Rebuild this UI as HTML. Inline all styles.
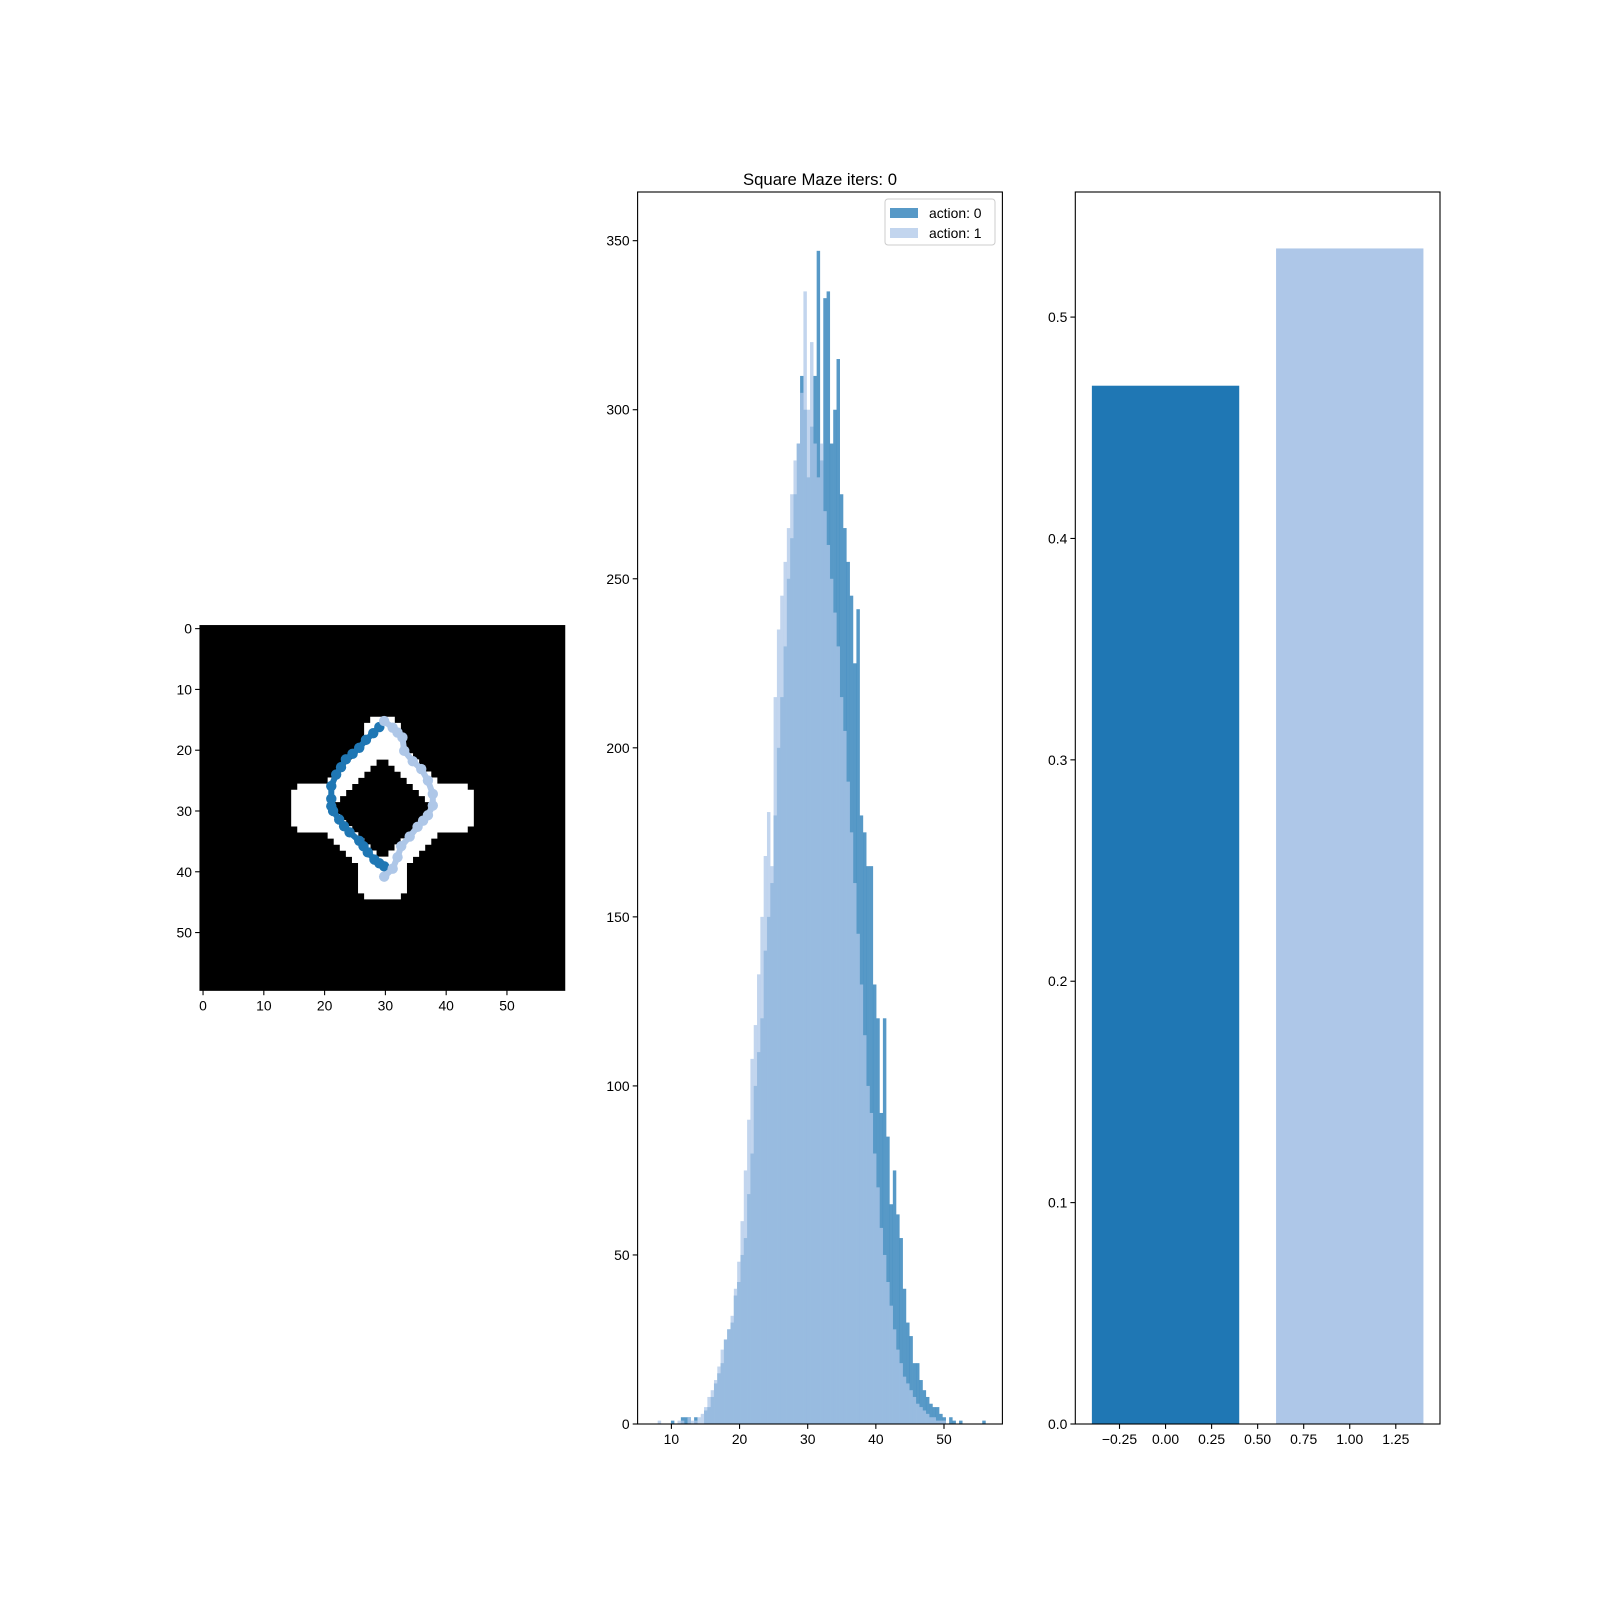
<!DOCTYPE html>
<html><head><meta charset="utf-8"><style>
html,body{margin:0;padding:0;background:#fff;}
svg{display:block;font-family:"Liberation Sans","DejaVu Sans",sans-serif;}
</style></head><body>
<svg id="fig" width="1600" height="1600" viewBox="0 0 1600 1600" xmlns="http://www.w3.org/2000/svg">
<rect width="1600" height="1600" fill="#fff"/>
<g id="maze"></g>
<g id="hist"></g>
<g id="bars"></g>
</svg>
<script>
// ---- data ----
const histBinStart = 7.5;
const histBinWidth = 0.486;
const action0Counts = [0,0,0,0,0,1,0,0,2,2, 2,0,2,0,0,4,5,8,12,15, 18,25,28,30,38,42,50,55,68,80,
 100,110,120,140,150,160,180,200,215,230, 250,262,275,290,310,300,280,295,310,347, 285,333,335,290,300,315,275,265,255,245,
 225,241,180,175,165,165,130,120,92,120, 85,65,75,62,55,40,30,26,18,18, 13,10,8,6,5,5,3,2,0,2, 1,0,1,0,0,0,0,0,0,1];
const action1Counts = [0,1,0,0,0,0,0,1,1,0, 2,1,1,2,3,5,8,10,13,17, 22,25,28,32,40,48,60,75,90,108,
 118,133,150,168,181,165,215,235,245,255, 265,275,285,290,305,335,300,320,290,280, 290,270,260,250,240,230,215,205,190,175,
 160,145,130,115,100,92,80,70,58,50, 42,35,28,22,18,14,12,10,8,6, 5,4,3,2,2,1,1,1,0,0, 0,0,0,0,0,0,0,0,0,0];
const histXTicks = [10,20,30,40,50];
const histYTicks = [0,50,100,150,200,250,300,350];
const barCategories = [0,1];
const barValues = [0.469,0.531];
const barXTicks = ["-0.25","0.00","0.25","0.50","0.75","1.00","1.25"];
const barYTicks = ["0.0","0.1","0.2","0.3","0.4","0.5"];
const mazeTicks = [0,10,20,30,40,50];
const path0X = [29.0,28.0,26.8,25.7,24.6,23.5,22.7,21.9,21.1,21.1,21.1,21.4,22.4,23.2,24.1,25.7,26.4,27.1,28.2,29.0,29.8];
const path0Y = [16.2,17.2,18.3,19.6,20.6,21.5,22.8,24.0,25.9,28.0,29.2,30.0,31.4,32.5,33.5,34.9,35.8,36.8,38.0,38.6,39.1];
const path1X = [29.8,31.2,32.0,32.8,33.1,34.5,35.9,37.0,37.8,37.8,37.0,36.2,35.3,34.0,32.6,32.0,31.2,29.8];
const path1Y = [15.2,16.3,17.1,17.9,20.1,21.8,23.1,25.0,27.2,29.1,30.7,31.6,32.6,34.2,35.8,37.6,39.5,40.8];

const NS="http://www.w3.org/2000/svg";
function mk(parent,tag,attrs,text){const e=document.createElementNS(NS,tag);for(const k in attrs)e.setAttribute(k,attrs[k]);if(text!==undefined)e.textContent=text;parent.appendChild(e);return e;}
const FS=13.9;

// ---- maze panel ----
(function(){
 const g=document.getElementById('maze');
 const X0=200,Y0=625.6,S=364.7,cell=S/60;
 const sx=v=>X0+(v+0.5)*cell, sy=v=>Y0+(v+0.5)*cell;
 const bg=mk(g,'rect',{x:X0,y:Y0,width:S,height:S,fill:'#000'});
 
 
 function white(r,c){
  const d=Math.abs(r-29.5)+Math.abs(c-29.5);
  if(d>8&&d<=13.5)return true;
  const inBox=(r0,r1,c0,c1)=>r>=r0&&r<=r1&&c>=c0&&c<=c1&&!((r==r0||r==r1)&&(c==c0||c==c1));
  if(d>8&&(inBox(26,33,15,22)||inBox(26,33,37,44)||inBox(37,44,26,33)||inBox(15,19,27,32)))return true;
  return false;
 }
 let p='';
 for(let r=0;r<60;r++)for(let c=0;c<60;c++)if(white(r,c)){const x=X0+c*cell,y=Y0+r*cell;p+=`M${x.toFixed(2)} ${y.toFixed(2)}h${(cell+0.3).toFixed(2)}v${(cell+0.3).toFixed(2)}h-${(cell+0.3).toFixed(2)}z`;}
 const wp=mk(g,'path',{d:p,fill:'#fff'});
 
 
 [[path0X,path0Y,'#1f77b4','trajectory-action-0'],[path1X,path1Y,'#aec7e8','trajectory-action-1']].forEach(([xs,ys,col,nm])=>{
  const tg=mk(g,'g',{});
  
  
  mk(tg,'polyline',{points:xs.map((x,i)=>sx(x)+','+sy(ys[i])).join(' '),fill:'none',stroke:col,'stroke-width':6,'stroke-linejoin':'round','stroke-linecap':'round'});
  xs.forEach((x,i)=>{const c=mk(tg,'circle',{cx:sx(x),cy:sy(ys[i]),r:5.2,fill:col});
   
   });
 });
 mk(g,'rect',{x:X0,y:Y0,width:S,height:S,fill:'none',stroke:'#000','stroke-width':1.1});
 mazeTicks.forEach(t=>{
  mk(g,'line',{x1:sx(t),x2:sx(t),y1:Y0+S,y2:Y0+S+4.9,stroke:'#000','stroke-width':1.1});
  const tx=mk(g,'text',{x:sx(t),y:Y0+S+20,'font-size':FS,'text-anchor':'middle'},String(t));
  
  
  mk(g,'line',{x1:X0-4.9,x2:X0,y1:sy(t),y2:sy(t),stroke:'#000','stroke-width':1.1});
  const ty=mk(g,'text',{x:X0-8,y:sy(t)+5,'font-size':FS,'text-anchor':'end'},String(t));
  
  
 });
})();

// ---- histogram panel ----
(function(){
 const g=document.getElementById('hist');
 const L=637.6,R=1002.4,T=192,B=1424, xmin=5.04,xmax=58.57,ymax=364.4;
 const sx=v=>L+(v-xmin)/(xmax-xmin)*(R-L), sy=v=>B-v/ymax*(B-T);
 [[action0Counts,'#1f77b4','hist-action-0'],[action1Counts,'#aec7e8','hist-action-1']].forEach(([arr,col,nm])=>{
  const sg=mk(g,'g',{'fill-opacity':0.75,fill:col});
  
  
  arr.forEach((v,i)=>{ if(v<=0)return;
   const x0=sx(histBinStart+i*histBinWidth),x1=sx(histBinStart+(i+1)*histBinWidth);
   const r=mk(sg,'rect',{x:x0,y:sy(v),width:x1-x0+0.15,height:B-sy(v)});
   
   
  });
 });
 mk(g,'rect',{x:L,y:T,width:R-L,height:B-T,fill:'none',stroke:'#000','stroke-width':1.1});
 histXTicks.forEach(t=>{
  mk(g,'line',{x1:sx(t),x2:sx(t),y1:B,y2:B+4.9,stroke:'#000','stroke-width':1.1});
  const tx=mk(g,'text',{x:sx(t),y:B+20,'font-size':FS,'text-anchor':'middle'},String(t));
  
  
 });
 histYTicks.forEach(t=>{
  mk(g,'line',{x1:L-4.9,x2:L,y1:sy(t),y2:sy(t),stroke:'#000','stroke-width':1.1});
  const ty=mk(g,'text',{x:L-8,y:sy(t)+5,'font-size':FS,'text-anchor':'end'},String(t));
  
  
 });
 const title=mk(g,'text',{x:(L+R)/2,y:185,'font-size':16.7,'text-anchor':'middle'},'Square Maze iters: 0');
 
 
 const lg=mk(g,'g',{});
 
 
 mk(lg,'rect',{x:885,y:199,width:110,height:46,rx:3,fill:'#fff','fill-opacity':0.8,stroke:'#ccc','stroke-width':1});
 [['action: 0','#1f77b4',208],['action: 1','#aec7e8',228]].forEach(([lab,col,y])=>{
  const e=mk(lg,'g',{});
  
  
  mk(e,'rect',{x:890,y:y,width:28,height:10,fill:col,'fill-opacity':0.75});
  mk(e,'text',{x:929,y:y+10,'font-size':FS},lab);
 });
})();

// ---- bar panel ----
(function(){
 const g=document.getElementById('bars');
 const L=1075.3,R=1440,T=192,B=1424,xmin=-0.49,xmax=1.49,ymax=0.5565;
 const sx=v=>L+(v-xmin)/(xmax-xmin)*(R-L), sy=v=>B-v/ymax*(B-T);
 const cols=['#1f77b4','#aec7e8'];
 barCategories.forEach((c,i)=>{
  const r=mk(g,'rect',{x:sx(c-0.4),y:sy(barValues[i]),width:sx(c+0.4)-sx(c-0.4),height:B-sy(barValues[i]),fill:cols[i]});
  
  
 });
 mk(g,'rect',{x:L,y:T,width:R-L,height:B-T,fill:'none',stroke:'#000','stroke-width':1.1});
 barXTicks.forEach(t=>{const v=parseFloat(t);
  mk(g,'line',{x1:sx(v),x2:sx(v),y1:B,y2:B+4.9,stroke:'#000','stroke-width':1.1});
  const tx=mk(g,'text',{x:sx(v),y:B+20,'font-size':FS,'text-anchor':'middle'},t.replace('-','\u2212'));
  
  
 });
 barYTicks.forEach(t=>{const v=parseFloat(t);
  mk(g,'line',{x1:L-4.9,x2:L,y1:sy(v),y2:sy(v),stroke:'#000','stroke-width':1.1});
  const ty=mk(g,'text',{x:L-8,y:sy(v)+5,'font-size':FS,'text-anchor':'end'},t);
  
  
 });
})();
</script>
</body></html>
